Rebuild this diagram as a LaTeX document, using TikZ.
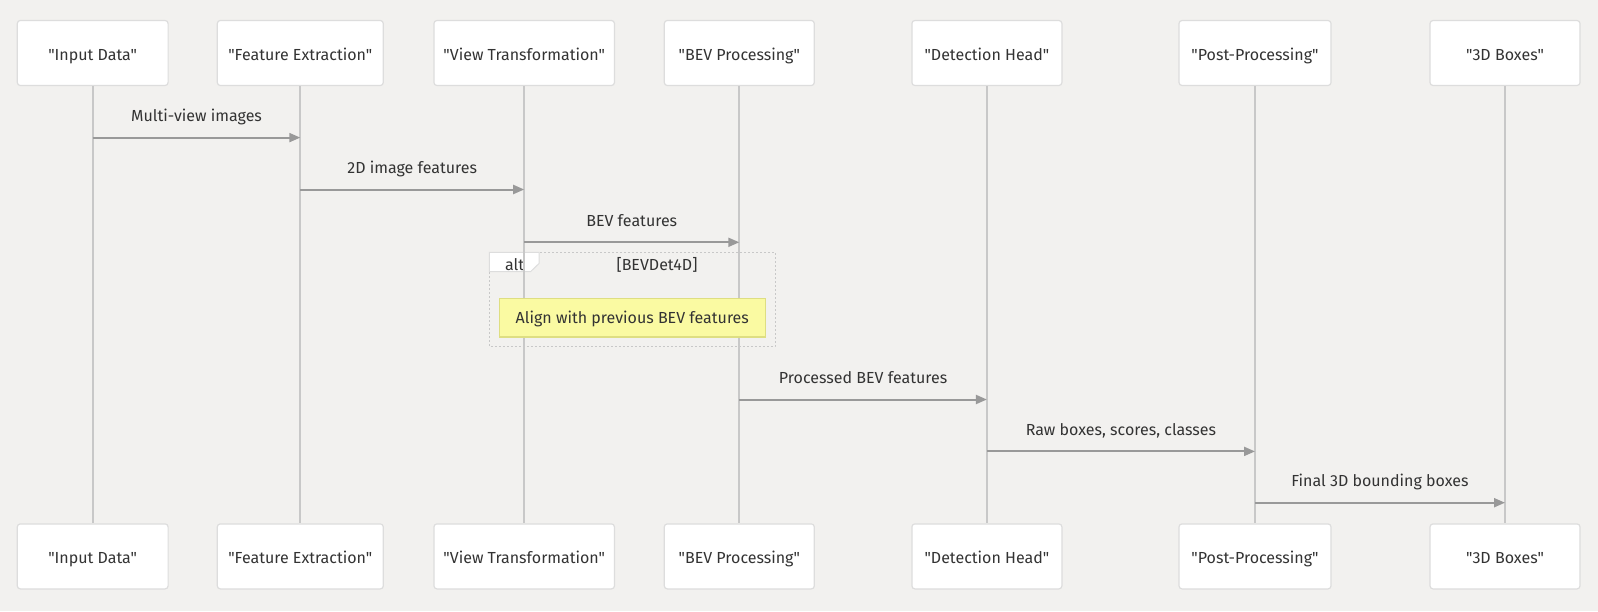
\documentclass[tikz,border=0pt]{standalone}
\usepackage{fontspec}
\setmainfont{Fira Sans}[Ligatures=TeXOff]
\usetikzlibrary{arrows.meta}

\definecolor{bgcol}{RGB}{242,241,239}
\definecolor{boxline}{RGB}{221,221,221}
\definecolor{lifecol}{RGB}{200,200,200}
\definecolor{msgcol}{RGB}{153,153,153}
\definecolor{txtcol}{RGB}{51,51,51}
\definecolor{notefill}{RGB}{250,250,162}
\definecolor{noteline}{RGB}{222,222,130}

\tikzset{
  actor/.style={draw=boxline, line width=1.2pt, fill=white, rounded corners=3pt,
    minimum height=65pt, inner sep=0pt, text=txtcol, text height=17pt, text depth=2pt},
  life/.style={draw=lifecol, line width=2pt},
  msg/.style={draw=msgcol, line width=2pt, -{Triangle[length=11pt,width=9pt]}},
  msglabel/.style={text=txtcol, yshift=19.8pt, text height=11pt, text depth=3pt},
}

\begin{document}
\begin{tikzpicture}[x=1pt,y=-1pt,font=\fontsize{16}{19}\selectfont]
   \useasboundingbox[fill=bgcol] (0,0) rectangle (1598,611);
   % participants, top and bottom
   \foreach \n/\x/\w/\t in {in/92.7/150.8/{"Input Data"},
       fe/300.3/166/{"Feature Extraction"},
       vt/524.2/180.5/{"View Transformation"},
       bev/739.3/150/{"BEV Processing"},
       dh/986.9/150/{"Detection Head"},
       pp/1255/152/{"Post-Processing"},
       box/1505/150/{"3D Boxes"}}
   {
     \node[actor, minimum width=\w pt] (top-\n) at (\x,53) {\t};
     \node[actor, minimum width=\w pt] (bot-\n) at (\x,556.4) {\t};
   }
   % alt frame
   \draw[draw=lifecol, line width=1pt, dash pattern=on 2pt off 2pt]
     (489.3,252.3) rectangle (775,346.7);
   \draw[draw=boxline, line width=1pt, fill=white]
     (489.3,252.3) -- (539,252.3) -- (539,263.5) -- (530.5,271.7)
     -- (489.3,271.7) -- cycle;
   \node[text=txtcol, text height=11pt, text depth=3pt] (alt) at (514.5,266.3) {alt};
   \node[text=txtcol, text height=11pt, text depth=3pt] (cond) at (657,266.3) {[BEVDet4D]};
   % lifelines
   \foreach \n in {in,fe,vt,bev,dh,pp,box}
     \draw[life] (top-\n) -- (bot-\n);
   \node[draw=noteline, line width=1.2pt, fill=notefill, text=txtcol,
     minimum width=266pt, minimum height=38.7pt, inner sep=0pt,
     text height=12pt, text depth=1pt] (note)
     at (632.3,317.6) {Align with previous BEV features};
   % messages
   \draw[msg] (top-in |- 0,137.6) -- (top-fe |- 0,137.6)
     node[midway, msglabel] (m1) {Multi-view images};
   \draw[msg] (top-fe |- 0,189.5) -- (top-vt |- 0,189.5)
     node[midway, msglabel] (m2) {2D image features};
   \draw[msg] (top-vt |- 0,242.3) -- (top-bev |- 0,242.3)
     node[midway, msglabel] (m3) {BEV features};
   \draw[msg] (top-bev |- 0,399.5) -- (top-dh |- 0,399.5)
     node[midway, msglabel] (m4) {Processed BEV features};
   \draw[msg] (top-dh |- 0,451.4) -- (top-pp |- 0,451.4)
     node[midway, msglabel] (m5) {Raw boxes, scores, classes};
   \draw[msg] (top-pp |- 0,502.7) -- (top-box |- 0,502.7)
     node[midway, msglabel] (m6) {Final 3D bounding boxes};
\end{tikzpicture}
\end{document}
